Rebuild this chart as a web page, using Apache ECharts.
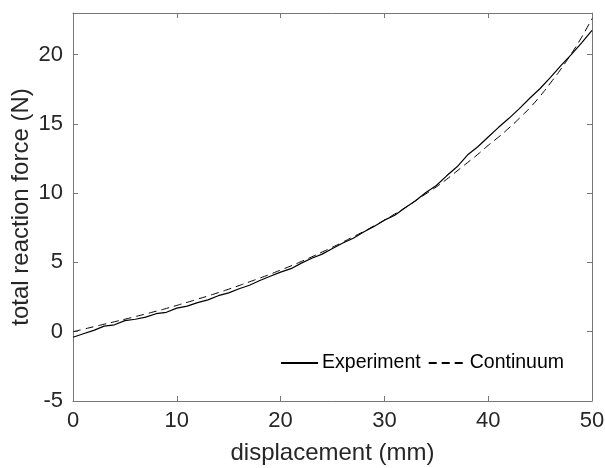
<!DOCTYPE html>
<html>
<head>
<meta charset="utf-8">
<script src="https://cdn.jsdelivr.net/npm/echarts@6/dist/echarts.min.js"></script>
<style>
html,body{margin:0;padding:0;background:#fff;}
#chart{width:605px;height:468px;}
</style>
</head>
<body>
<div id="chart"></div>
<script>
// displacement (mm)
const displacement = [0,1,2,3,4,5,6,7,8,9,10,11,12,13,14,15,16,17,18,19,20,21,22,23,24,25,26,27,28,29,30,31,32,33,34,35,36,37,38,39,40,41,42,43,44,45,46,47,48,49,50];
// Experiment: total reaction force (N)
const experiment = [-0.40,-0.15,0.10,0.40,0.50,0.80,0.90,1.05,1.30,1.40,1.70,1.85,2.10,2.30,2.60,2.80,3.10,3.35,3.70,4.00,4.30,4.55,4.95,5.30,5.60,6.00,6.40,6.75,7.20,7.60,8.05,8.40,8.95,9.45,10.05,10.55,11.25,11.90,12.75,13.35,14.05,14.75,15.40,16.10,16.85,17.55,18.35,19.20,20.00,20.85,21.75];
// Continuum model: total reaction force (N)
const continuum = [0.00,0.18,0.36,0.54,0.72,0.90,1.09,1.28,1.48,1.68,1.90,2.12,2.35,2.58,2.82,3.07,3.33,3.60,3.87,4.15,4.45,4.75,5.07,5.40,5.75,6.10,6.47,6.85,7.23,7.63,8.05,8.50,8.95,9.45,9.95,10.45,11.00,11.60,12.20,12.80,13.45,14.05,14.70,15.40,16.15,17.00,17.95,18.95,20.05,21.25,22.60];
const xTicks = [0,10,20,30,40,50];
const yTicks = [-5,0,5,10,15,20];

const expData = displacement.map((x,i)=>[x,experiment[i]]);
const conData = displacement.map((x,i)=>[x,continuum[i]]);

const FONT = '"Liberation Sans", Arial, Helvetica, sans-serif';
const axisCol = '#777777';
const txtCol = '#262626';

const chart = echarts.init(document.getElementById('chart'), null, {renderer:'canvas'});
const baseX = {
  type:'value', min:0, max:50, interval:10,
  axisLine:{show:true, onZero:false, lineStyle:{color:axisCol, width:1}},
  axisTick:{show:true, inside:true, length:5, lineStyle:{color:axisCol}},
  splitLine:{show:false}
};
const baseY = {
  type:'value', min:-5, max:23, interval:5,
  axisLine:{show:true, onZero:false, lineStyle:{color:axisCol, width:1}},
  axisTick:{show:true, inside:true, length:5, lineStyle:{color:axisCol}},
  splitLine:{show:false}
};
chart.setOption({
  animation:false,
  backgroundColor:'#ffffff',
  grid:{left:73, right:13, top:13, bottom:67, containLabel:false, outerBoundsMode:'none'},
  xAxis:[
    Object.assign({}, baseX, {
      position:'bottom',
      name:'displacement (mm)', nameLocation:'middle', nameGap:40, nameMoveOverlap:false,
      nameTextStyle:{fontFamily:FONT, fontSize:24, color:txtCol},
      axisLabel:{show:true, fontFamily:FONT, fontSize:22, color:txtCol, margin:9,
        formatter:v=>xTicks.includes(v)?String(v):''}
    }),
    Object.assign({}, baseX, {position:'top', axisLabel:{show:false}})
  ],
  yAxis:[
    Object.assign({}, baseY, {
      position:'left',
      name:'total reaction force (N)', nameLocation:'middle', nameGap:40, nameMoveOverlap:false,
      nameTextStyle:{fontFamily:FONT, fontSize:24, color:txtCol},
      axisLabel:{show:true, fontFamily:FONT, fontSize:22, color:txtCol, margin:10,
        formatter:v=>yTicks.includes(v)?String(v):''}
    }),
    Object.assign({}, baseY, {position:'right', axisLabel:{show:false}})
  ],
  legend:{
    show:true, right:36, top:348, orient:'horizontal',
    itemWidth:37, itemHeight:10, itemGap:7,
    itemStyle:{opacity:0},
    textStyle:{fontFamily:FONT, fontSize:19.5, color:'#000', padding:[0,0,0,-1]},
    data:[{name:'Experiment'},{name:'Continuum'}]
  },
  series:[
    {name:'Experiment', type:'line', data:expData, xAxisIndex:0, yAxisIndex:0,
      showSymbol:false, symbol:'none', smooth:false,
      lineStyle:{color:'#000', width:1.2, type:'solid'}, itemStyle:{color:'#000'}},
    {name:'Continuum', type:'line', data:conData, xAxisIndex:0, yAxisIndex:0,
      showSymbol:false, symbol:'none', smooth:true,
      lineStyle:{color:'#000', width:1, type:[8,5]}, itemStyle:{color:'#000'}}
  ]
});
</script>
</body>
</html>
